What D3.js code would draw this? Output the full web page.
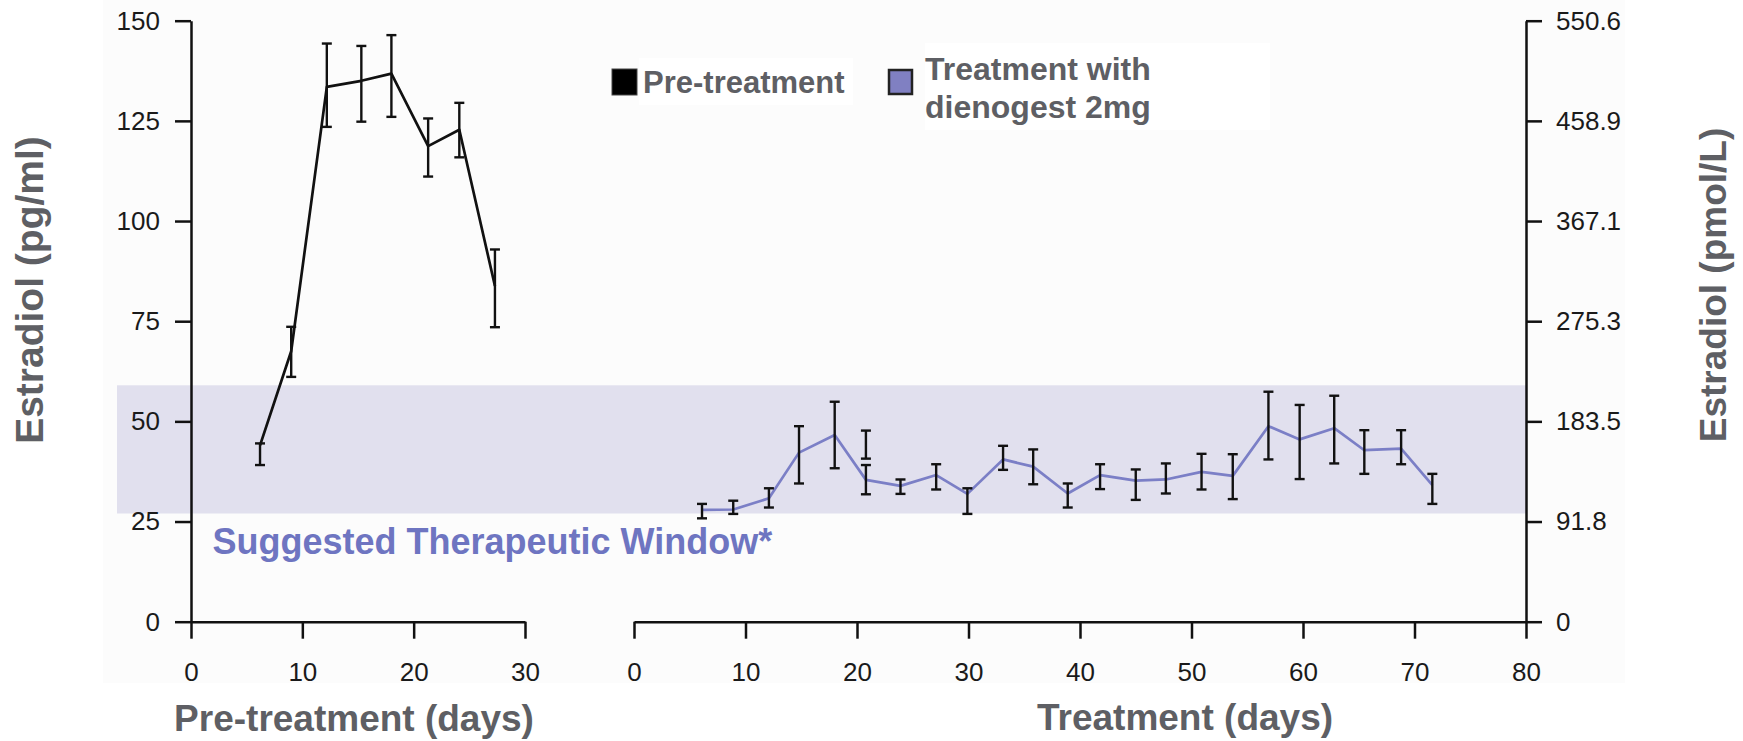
<!DOCTYPE html>
<html>
<head>
<meta charset="utf-8">
<script src="https://cdn.jsdelivr.net/npm/d3@7"></script>
<style>
  html, body { margin: 0; padding: 0; background: #fff; }
  svg { display: block; font-family: "Liberation Sans", Arial, Helvetica, sans-serif; }
</style>
</head>
<body>
<div id="chart"></div>
<script>
// pre-treatment cycle (pg/ml)
var preDays  = [6.2, 9.0, 12.2, 15.3, 18.0, 21.3, 24.1, 27.3];
var preMean  = [44, 67.5, 133.5, 135, 136.8, 118.7, 122.8, 83.8];
var preLow   = [39.1, 61.1, 123.5, 124.8, 126.0, 111.1, 115.9, 73.5];
var preHigh  = [44.5, 73.6, 144.3, 143.7, 146.4, 125.6, 129.5, 92.9];

// treatment with dienogest 2mg (pg/ml)
var trtDays = [6.1, 8.9, 12.1, 14.8, 18.0, 20.8, 23.9, 27.1, 29.9, 33.1, 35.8, 38.9,
               41.8, 45.0, 47.7, 50.9, 53.7, 56.9, 59.7, 62.8, 65.5, 68.8, 71.6];
var trtMean = [27.9, 28.0, 30.8, 42.2, 46.6, 35.4, 33.9, 36.6, 31.9, 40.5, 38.7, 32.0,
               36.6, 35.2, 35.5, 37.4, 36.4, 48.8, 45.5, 48.3, 42.8, 43.2, 34.1];
var trtLow  = [25.8, 26.9, 28.5, 34.5, 38.3, 31.8, 31.9, 33.0, 26.9, 37.9, 34.3, 28.5,
               33.1, 30.4, 32.0, 33.0, 30.6, 40.5, 35.6, 39.5, 36.9, 39.3, 29.4];
var trtHigh = [29.4, 30.2, 33.3, 48.8, 54.9, 39.1, 35.5, 39.3, 33.3, 43.9, 43.0, 34.5,
               39.3, 38.0, 39.5, 41.9, 41.8, 57.4, 54.1, 56.4, 47.8, 47.8, 36.9];
// second bar drawn above the day 21 point
var extraDays = [20.8];
var extraLow  = [40.7];
var extraHigh = [47.7];

var windowRange = [27, 59];
var leftTicks = [0, 25, 50, 75, 100, 125, 150];
var rightTickLabels = ["0", "91.8", "183.5", "275.3", "367.1", "458.9", "550.6"];
var preTicks = [0, 10, 20, 30];
var trtTicks = [0, 10, 20, 30, 40, 50, 60, 70, 80];

var W = 1743, H = 741;
var grayText = "#5e5f64";
var purple = "#7b7fc6";

var svg = d3.select("#chart").append("svg")
  .attr("width", W)
  .attr("height", H);

// scales
var y = d3.scaleLinear().domain([0, 150]).range([621.7, 20.7]);
var xPre = d3.scaleLinear().domain([0, 30]).range([191, 525]);
var xTrt = d3.scaleLinear().domain([0, 80]).range([634, 1526]);

// backgrounds
svg.append("rect").attr("x", 103).attr("y", 0).attr("width", 1522).attr("height", 683)
  .style("fill", "#fcfcfc");
svg.append("rect").attr("x", 639).attr("y", 58).attr("width", 214).attr("height", 47).style("fill", "#fff");
svg.append("rect").attr("x", 925).attr("y", 43).attr("width", 345).attr("height", 87).style("fill", "#fff");

// therapeutic window band
svg.append("rect")
  .attr("x", 117)
  .attr("y", y(windowRange[1]))
  .attr("width", xTrt(80) - 117)
  .attr("height", y(windowRange[0]) - y(windowRange[1]))
  .style("fill", "#e1e0ee");

svg.append("text")
  .attr("x", 212.5)
  .attr("y", 554)
  .style("font-size", "36px")
  .style("font-weight", "bold")
  .style("fill", "#6e75c1")
  .text("Suggested Therapeutic Window*");

// axes
function styleAxis(g) {
  g.selectAll("path, line").style("stroke", "#111").style("stroke-width", 2.5);
  g.selectAll("text").style("font-size", "26px").style("fill", "#1a1a1a")
    .style("font-family", "\"Liberation Sans\", Arial, Helvetica, sans-serif");
}

svg.append("g")
  .attr("transform", "translate(" + xPre(0) + ",0)")
  .call(d3.axisLeft(y).tickValues(leftTicks).tickSizeInner(16).tickSizeOuter(0).tickPadding(15))
  .call(styleAxis);

svg.append("g")
  .attr("transform", "translate(" + xTrt(80) + ",0)")
  .call(d3.axisRight(y).tickValues(leftTicks).tickSizeInner(16).tickSizeOuter(0).tickPadding(14)
    .tickFormat(function(d, i) { return rightTickLabels[i]; }))
  .call(styleAxis);

svg.append("g")
  .attr("transform", "translate(0," + y(0) + ")")
  .call(d3.axisBottom(xPre).tickValues(preTicks).tickSizeInner(17).tickSizeOuter(0).tickPadding(24))
  .call(styleAxis);

svg.append("g")
  .attr("transform", "translate(0," + y(0) + ")")
  .call(d3.axisBottom(xTrt).tickValues(trtTicks).tickSizeInner(17).tickSizeOuter(0).tickPadding(24))
  .call(styleAxis);

// series
function drawSeries(x, days, mean, low, high, color) {
  var pts = days.map(function(d, i) { return [x(d), y(mean[i])]; });
  svg.append("path")
    .attr("d", d3.line()(pts))
    .style("fill", "none")
    .style("stroke", color)
    .style("stroke-width", 2.7)
    .style("stroke-linejoin", "round");
  drawBars(x, days, low, high);
}

function drawBars(x, days, low, high) {
  var bars = svg.append("g").selectAll("g")
    .data(days.map(function(d, i) { return {x: x(d), lo: y(low[i]), hi: y(high[i])}; }))
    .enter().append("g")
    .style("stroke", "#111")
    .style("stroke-width", 2.4);
  bars.append("line")
    .attr("x1", function(d) { return d.x; }).attr("x2", function(d) { return d.x; })
    .attr("y1", function(d) { return d.lo; }).attr("y2", function(d) { return d.hi; });
  bars.append("line")
    .attr("x1", function(d) { return d.x - 5; }).attr("x2", function(d) { return d.x + 5; })
    .attr("y1", function(d) { return d.lo; }).attr("y2", function(d) { return d.lo; });
  bars.append("line")
    .attr("x1", function(d) { return d.x - 5; }).attr("x2", function(d) { return d.x + 5; })
    .attr("y1", function(d) { return d.hi; }).attr("y2", function(d) { return d.hi; });
}

drawSeries(xPre, preDays, preMean, preLow, preHigh, "#111");
drawSeries(xTrt, trtDays, trtMean, trtLow, trtHigh, purple);
drawBars(xTrt, extraDays, extraLow, extraHigh);

// legend
svg.append("rect").attr("x", 612).attr("y", 69).attr("width", 25).attr("height", 26)
  .style("fill", "#000").style("stroke", "#444").style("stroke-width", 1);
svg.append("text").attr("x", 643).attr("y", 93)
  .style("font-size", "31px").style("font-weight", "bold").style("fill", grayText)
  .text("Pre-treatment");

svg.append("rect").attr("x", 889).attr("y", 70).attr("width", 23).attr("height", 24)
  .style("fill", "#8080c2").style("stroke", "#222").style("stroke-width", 2.5);
var lt = svg.append("text").attr("x", 925).attr("y", 80)
  .style("font-size", "32px").style("font-weight", "bold").style("fill", grayText);
lt.append("tspan").attr("x", 925).attr("y", 80).text("Treatment with");
lt.append("tspan").attr("x", 925).attr("y", 118).text("dienogest 2mg");

// axis titles
svg.append("text")
  .attr("transform", "translate(43,290) rotate(-90)")
  .attr("text-anchor", "middle")
  .style("font-size", "39px").style("font-weight", "bold").style("fill", grayText)
  .text("Estradiol (pg/ml)");

svg.append("text")
  .attr("transform", "translate(1726,285) rotate(-90)")
  .attr("text-anchor", "middle")
  .style("font-size", "37px").style("font-weight", "bold").style("fill", grayText)
  .text("Estradiol (pmol/L)");

svg.append("text")
  .attr("x", 354).attr("y", 731)
  .attr("text-anchor", "middle")
  .style("font-size", "37px").style("font-weight", "bold").style("fill", grayText)
  .text("Pre-treatment (days)");

svg.append("text")
  .attr("x", 1185).attr("y", 730)
  .attr("text-anchor", "middle")
  .style("font-size", "37px").style("font-weight", "bold").style("fill", grayText)
  .text("Treatment (days)");
</script>
</body>
</html>
